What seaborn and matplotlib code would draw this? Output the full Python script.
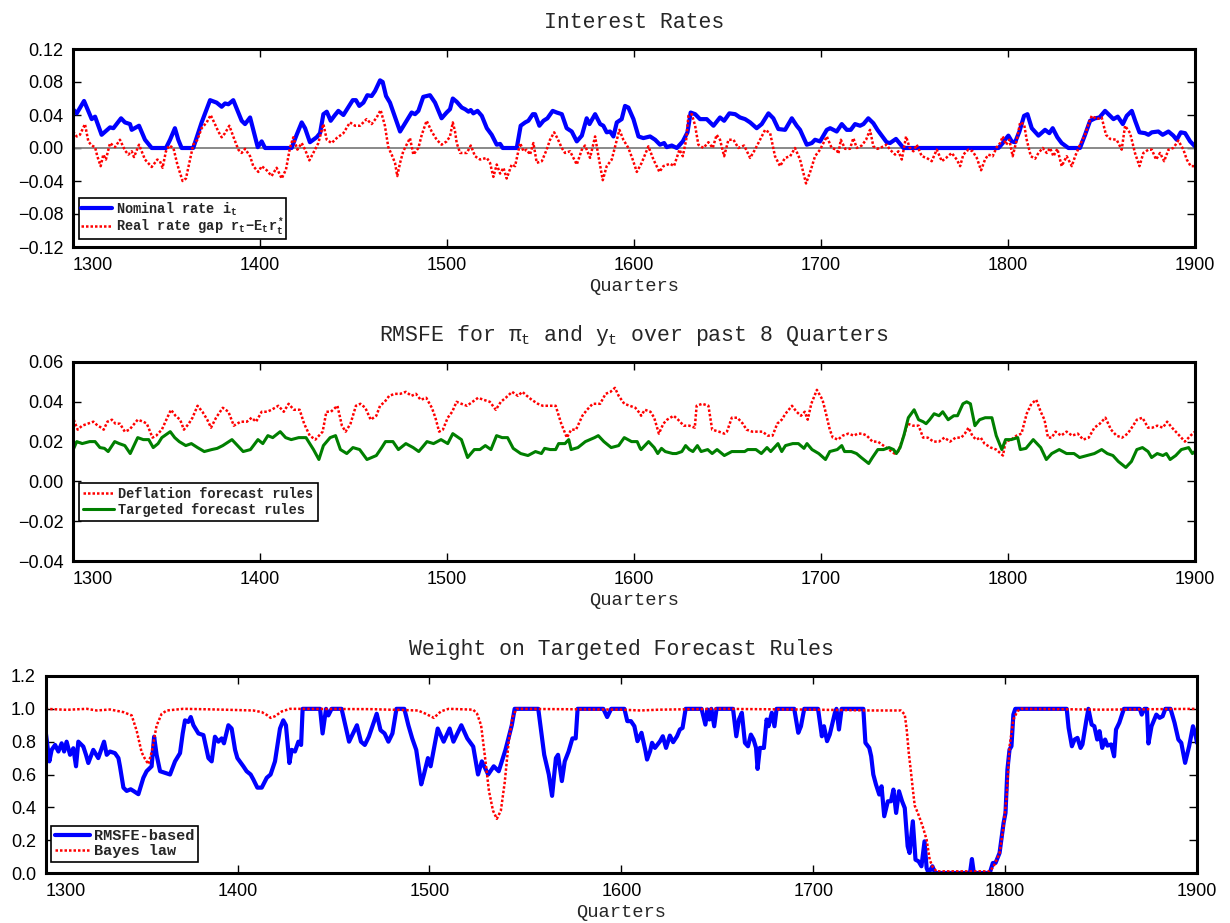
import numpy as np
import pandas as pd
import matplotlib
matplotlib.use("Agg")
import matplotlib.pyplot as plt
from matplotlib.ticker import FuncFormatter, MultipleLocator
import seaborn as sns

# ---------------- data ----------------
# Panel 1: Interest rates
nominal_q = [1300.0, 1302.0, 1305.9, 1310.0, 1311.8, 1315.3, 1319.8, 1321.6, 1325.7, 1327.8, 1330.5, 1331.4,
             1335.3, 1338.5, 1342.1, 1349.7, 1351.9, 1354.5, 1356.3, 1358.1, 1364.3, 1368.8, 1373.3, 1376.8,
             1379.5, 1381.3, 1383.1, 1385.7, 1390.2, 1392.0, 1394.7, 1397.3, 1398.8, 1400.9, 1402.7, 1416.9,
             1419.6, 1422.3, 1424.1, 1426.7, 1430.3, 1432.1, 1433.9, 1435.7, 1437.8, 1440.1, 1441.9, 1444.6,
             1449.6, 1451.3, 1453.1, 1455.3, 1457.4, 1459.7, 1461.5, 1464.2, 1465.6, 1467.4, 1469.5, 1474.9,
             1478.4, 1481.1, 1482.9, 1484.7, 1487.3, 1490.9, 1493.6, 1497.1, 1499.8, 1501.6,
             1503.1, 1505.2, 1507.9, 1509.7, 1511.5, 1512.7, 1514.1, 1516.3, 1518.6, 1521.3, 1523.9, 1526.6,
             1528.4, 1529.8, 1537.3, 1539.4, 1541.8, 1543.5, 1545.9, 1547.1, 1549.4, 1551.6, 1553.7, 1556.5,
             1558.7, 1561.4, 1564.0, 1566.7, 1569.4, 1572.1, 1574.7, 1576.2, 1579.2, 1581.9, 1583.6, 1585.4,
             1587.2, 1589.0, 1590.8, 1593.4, 1595.2, 1597.0, 1599.7, 1602.4, 1605.0, 1608.6, 1611.3, 1613.9,
             1616.1, 1617.5, 1620.2, 1622.9, 1626.1, 1628.6, 1630.3, 1632.7, 1635.3, 1638.9, 1642.5, 1646.0,
             1648.2, 1651.0, 1654.1, 1656.7, 1659.4, 1662.1, 1665.6, 1668.3, 1671.9, 1674.5, 1677.2, 1680.8,
             1684.4, 1687.0, 1688.8, 1692.4, 1695.1, 1696.8, 1699.5, 1703.1, 1704.9,
             1706.6, 1708.4, 1711.1, 1713.8, 1715.9, 1718.2, 1720.9, 1722.7, 1725.3, 1728.0, 1730.2, 1732.5,
             1735.1, 1736.9, 1740.1, 1741.9, 1744.1, 1794.9, 1797.2, 1798.4, 1800.2, 1802.0, 1803.8, 1806.1,
             1808.6, 1810.4, 1812.7, 1816.3, 1819.8, 1822.1, 1823.9, 1826.4, 1828.7, 1832.3, 1838.5, 1841.2,
             1843.9, 1846.6, 1848.9, 1851.9, 1854.6, 1856.4, 1858.7, 1861.4, 1863.5, 1866.2, 1868.0, 1870.3,
             1873.3, 1875.1, 1876.9, 1880.4, 1882.7, 1885.8, 1888.4, 1890.2, 1892.4, 1894.7, 1897.4, 1900.0]
nominal_rate = [0.047, 0.042, 0.057, 0.035, 0.038, 0.016, 0.025, 0.024, 0.036, 0.031, 0.029, 0.022,
                0.027, 0.010, 0.0, 0.0, 0.010, 0.024, 0.010, 0.0, 0.0, 0.031, 0.058, 0.055,
                0.050, 0.054, 0.053, 0.058, 0.033, 0.029, 0.037, 0.014, 0.001, 0.008, 0.0, 0.0,
                0.016, 0.031, 0.024, 0.007, 0.013, 0.018, 0.041, 0.044, 0.033, 0.040, 0.045, 0.040,
                0.058, 0.058, 0.051, 0.055, 0.064, 0.063, 0.069, 0.082, 0.080, 0.063, 0.055, 0.020,
                0.033, 0.043, 0.041, 0.045, 0.062, 0.064, 0.055, 0.036, 0.043, 0.047,
                0.060, 0.056, 0.049, 0.047, 0.044, 0.046, 0.042, 0.045, 0.039, 0.024, 0.016, 0.004,
                0.005, 0.0, 0.0, 0.027, 0.031, 0.033, 0.041, 0.041, 0.027, 0.033, 0.036, 0.045,
                0.043, 0.041, 0.024, 0.020, 0.008, 0.015, 0.036, 0.029, 0.041, 0.029, 0.027, 0.019,
                0.020, 0.014, 0.031, 0.035, 0.051, 0.049, 0.035, 0.014, 0.012, 0.014, 0.010, 0.004,
                0.006, 0.001, 0.003, 0.0, 0.008, 0.019, 0.043, 0.041, 0.035, 0.035, 0.027, 0.037,
                0.033, 0.042, 0.041, 0.037, 0.035, 0.031, 0.024, 0.029, 0.042, 0.036, 0.023, 0.022,
                0.036, 0.027, 0.022, 0.004, 0.006, 0.010, 0.008, 0.022, 0.024,
                0.022, 0.020, 0.029, 0.022, 0.022, 0.029, 0.027, 0.029, 0.036, 0.030, 0.022, 0.015,
                0.007, 0.006, 0.011, 0.006, 0.0, 0.0, 0.006, 0.010, 0.015, 0.008, 0.007, 0.020,
                0.039, 0.041, 0.024, 0.015, 0.022, 0.018, 0.024, 0.013, 0.006, 0.0, 0.0, 0.016,
                0.033, 0.036, 0.037, 0.045, 0.039, 0.035, 0.038, 0.029, 0.039, 0.045, 0.033, 0.019,
                0.018, 0.016, 0.019, 0.020, 0.016, 0.020, 0.015, 0.010, 0.019, 0.018, 0.008, 0.002]

gap_q = [1300.0, 1302.0, 1303.7, 1306.4, 1308.2, 1310.0, 1311.8, 1313.0, 1314.8, 1316.2, 1317.6, 1319.8,
         1322.5, 1325.1, 1327.8, 1329.6, 1331.4, 1332.6, 1335.3, 1338.5, 1342.1, 1345.1, 1346.5, 1347.9,
         1349.7, 1351.5, 1353.7, 1355.8, 1358.6, 1360.4, 1362.2, 1364.3, 1366.5, 1368.8, 1371.5, 1373.6,
         1375.9, 1377.7, 1379.5, 1381.3, 1383.6, 1385.7, 1388.4, 1390.2, 1392.0, 1394.7, 1396.4, 1399.1,
         1400.9, 1403.6, 1406.2, 1408.9, 1411.6, 1413.9, 1416.0, 1417.8, 1420.0, 1422.3, 1424.1, 1426.4,
         1428.5, 1431.2, 1433.9, 1435.7, 1438.3, 1441.0, 1444.6, 1448.1, 1450.8, 1453.5, 1457.0, 1459.7,
         1462.4, 1464.5, 1466.8, 1468.6, 1470.4, 1472.2, 1473.4, 1474.9, 1476.6, 1478.4, 1480.2, 1482.0,
         1484.7, 1486.5, 1489.1, 1491.8, 1494.5, 1497.1, 1499.8, 1501.6,
         1503.1, 1504.3, 1505.2, 1507.0, 1510.6, 1512.7, 1515.0, 1517.7, 1521.3, 1523.0, 1524.8, 1526.6,
         1528.4, 1530.2, 1531.9, 1534.6, 1536.4, 1539.1, 1540.9, 1542.6, 1544.4, 1546.2, 1548.0, 1550.7,
         1553.3, 1555.1, 1557.3, 1559.0, 1561.4, 1563.1, 1565.8, 1569.4, 1572.1, 1573.8, 1576.5, 1579.2,
         1581.0, 1583.3, 1585.4, 1588.1, 1589.9, 1592.2, 1594.3, 1597.0, 1599.3, 1601.5, 1604.1, 1607.7,
         1610.4, 1613.6, 1615.7, 1619.3, 1621.4, 1624.3, 1626.1, 1627.9, 1629.1, 1630.9, 1632.7, 1634.4,
         1637.1, 1639.8, 1642.1, 1644.2, 1646.0, 1648.2, 1650.5, 1653.2, 1655.8, 1658.9, 1662.1, 1664.7,
         1667.4, 1670.1, 1672.8, 1675.4, 1678.1, 1680.8, 1683.5, 1686.1, 1688.8, 1692.0, 1694.5, 1696.8,
         1699.5, 1703.1,
         1705.7, 1708.4, 1709.3, 1710.6, 1712.9, 1715.5, 1717.3, 1719.1, 1721.8, 1724.1, 1726.2, 1728.0,
         1730.2, 1732.5, 1735.1, 1736.9, 1739.6, 1741.4, 1743.2, 1745.5, 1747.3, 1749.4, 1751.2, 1753.9,
         1756.5, 1759.2, 1761.9, 1764.6, 1766.9, 1769.9, 1772.6, 1774.4, 1776.1, 1778.8, 1781.1, 1783.3,
         1785.6, 1787.7, 1789.5, 1791.8, 1794.0, 1795.8, 1797.2, 1799.0, 1800.7, 1802.5, 1804.7, 1806.5,
         1808.6, 1810.0, 1812.2, 1814.5, 1816.3, 1818.6, 1820.7, 1822.5, 1824.3, 1826.4, 1828.7, 1831.4,
         1834.1, 1835.9, 1838.5, 1841.2, 1843.0, 1844.8, 1847.5, 1850.1, 1852.4, 1854.6, 1858.1, 1860.8,
         1862.6, 1865.3, 1867.9, 1870.3, 1872.4, 1875.1, 1876.9, 1879.2, 1881.3, 1883.5, 1885.8, 1888.4,
         1891.1, 1893.8, 1895.6, 1897.7, 1900.0]
real_rate_gap = [0.020, 0.014, 0.016, 0.029, 0.008, 0.003, 0.001, -0.010, -0.022, -0.008, -0.014, 0.006,
                 0.001, 0.010, -0.003, -0.008, -0.004, -0.011, 0.004, -0.014, -0.023, -0.014, -0.016, -0.024,
                 -0.004, 0.003, 0.0, -0.020, -0.040, -0.037, -0.018, 0.004, 0.010, 0.024, 0.031, 0.040,
                 0.029, 0.020, 0.013, 0.018, 0.027, 0.014, -0.002, -0.006, -0.001, -0.010, -0.022, -0.029,
                 -0.022, -0.027, -0.034, -0.024, -0.037, -0.026, 0.0, 0.013, -0.002, 0.006, -0.002, -0.015,
                 -0.006, 0.006, 0.029, 0.010, 0.006, 0.012, 0.018, 0.031, 0.027, 0.027, 0.035, 0.029,
                 0.037, 0.046, 0.027, 0.001, -0.008, -0.018, -0.034, -0.018, -0.004, 0.004, 0.012, -0.008,
                 0.0, 0.016, 0.033, 0.020, 0.010, 0.004, 0.008, 0.014,
                 0.031, 0.020, 0.006, -0.006, -0.006, 0.003, -0.010, -0.014, -0.012, -0.018, -0.035, -0.020,
                 -0.031, -0.024, -0.037, -0.020, -0.022, 0.006, -0.004, -0.002, -0.008, 0.006, -0.018, -0.016,
                 -0.002, 0.010, 0.019, 0.012, 0.0, -0.006, -0.004, -0.020, -0.002, 0.003, -0.012, 0.014,
                 -0.010, -0.039, -0.022, -0.014, 0.002, 0.022, 0.010, 0.0, -0.014, -0.029, -0.018, 0.002,
                 -0.014, -0.029, -0.022, -0.019, -0.022, -0.002, -0.010, 0.010, 0.039, 0.041, 0.027, 0.004,
                 0.0, 0.007, 0.0, 0.016, 0.010, -0.010, 0.010, 0.010, 0.0, 0.003, -0.012, -0.002,
                 0.010, 0.022, 0.018, -0.010, -0.022, -0.012, -0.010, 0.0, -0.014, -0.043, -0.027, -0.010,
                 -0.002, 0.014,
                 0.0, -0.002, -0.007, 0.010, -0.001, -0.001, 0.012, 0.0, 0.003, 0.010, 0.022, 0.002,
                 -0.001, 0.001, 0.004, -0.002, -0.008, -0.004, -0.014, 0.014, 0.001, -0.004, 0.004, -0.010,
                 -0.012, -0.016, -0.002, -0.016, -0.012, -0.006, -0.014, -0.022, -0.008, -0.002, -0.004, -0.012,
                 -0.027, -0.014, -0.008, -0.010, 0.001, 0.006, 0.014, 0.004, 0.010, -0.010, 0.010, 0.031,
                 0.029, 0.010, -0.010, -0.013, -0.006, 0.0, -0.006, 0.0, -0.010, -0.001, -0.022, -0.010,
                 -0.022, -0.010, 0.004, 0.016, 0.029, 0.039, 0.035, 0.037, 0.016, 0.011, 0.010, -0.002,
                 0.027, 0.018, -0.006, -0.022, -0.006, -0.002, -0.002, -0.014, -0.006, -0.016, -0.002, 0.0,
                 0.009, -0.002, -0.014, -0.022, -0.022]

# Panel 2: RMSFE
targeted_q = [1300.4, 1302.0, 1304.9, 1308.9, 1311.8, 1314.4, 1316.8, 1318.8, 1322.3, 1324.7, 1327.7, 1330.6,
              1334.6, 1337.6, 1340.5, 1342.9, 1345.5, 1347.5, 1352.0, 1354.4, 1356.8, 1360.3, 1363.3, 1366.6,
              1370.2, 1374.2, 1377.1, 1380.1, 1385.0, 1388.0, 1391.0, 1394.9, 1398.9, 1401.5, 1404.2, 1406.8,
              1410.8, 1413.7, 1416.7, 1420.7, 1424.6, 1428.6, 1431.5, 1433.9, 1437.5, 1440.4, 1443.0, 1446.4,
              1449.7, 1453.3, 1457.2, 1462.2, 1465.1, 1467.1, 1471.1, 1474.0, 1478.0, 1481.9, 1484.9, 1489.3,
              1492.8, 1496.8, 1500.4, 1503.1, 1507.7, 1511.0, 1514.6, 1517.6, 1520.5, 1523.5, 1526.5, 1529.5,
              1532.4, 1535.4, 1539.4, 1543.3, 1547.3, 1550.5, 1552.2, 1555.2, 1558.1, 1559.7, 1563.1, 1565.1,
              1566.4, 1570.0, 1574.0, 1578.9, 1580.9, 1583.9, 1587.8, 1591.8, 1594.8, 1598.7, 1601.7, 1603.3,
              1603.8, 1607.8, 1610.8, 1612.7, 1614.7, 1616.7, 1620.7, 1622.6, 1625.6, 1627.6, 1629.6, 1631.5,
              1633.9, 1635.9, 1639.4, 1641.8, 1644.4, 1648.3, 1652.3, 1656.3, 1659.2, 1660.8, 1665.2, 1668.1,
              1671.1, 1673.1, 1677.0, 1679.0, 1681.0, 1684.9, 1687.9, 1690.9, 1692.5, 1695.2, 1698.8, 1702.4,
              1704.7, 1708.7, 1711.1, 1712.6, 1716.2, 1719.0, 1721.5, 1725.5, 1727.5, 1730.4, 1733.4, 1736.4,
              1738.8, 1740.3, 1742.3, 1744.3, 1746.7, 1749.8, 1752.2, 1754.6, 1756.2, 1758.1, 1760.5, 1763.1,
              1765.1, 1768.0, 1771.0, 1773.0, 1775.9, 1777.9, 1779.9, 1782.3, 1784.8, 1787.8, 1791.4, 1793.7,
              1796.7, 1798.7, 1801.7, 1805.2, 1806.6, 1809.6, 1813.5, 1817.5, 1820.5, 1823.4, 1827.4, 1831.3,
              1835.3, 1838.3, 1842.2, 1846.2, 1850.1, 1853.1, 1856.1, 1859.0, 1863.0, 1866.0, 1868.9, 1871.9,
              1874.9, 1876.8, 1879.8, 1882.8, 1884.7, 1886.7, 1889.7, 1892.7, 1896.6, 1898.6, 1900.0]
targeted_rmsfe = [0.0166, 0.020, 0.019, 0.020, 0.020, 0.017, 0.0166, 0.015, 0.020, 0.019, 0.018, 0.014,
                  0.022, 0.021, 0.021, 0.017, 0.019, 0.022, 0.025, 0.022, 0.020, 0.018, 0.019, 0.017,
                  0.015, 0.016, 0.0166, 0.018, 0.021, 0.018, 0.015, 0.016, 0.021, 0.019, 0.023, 0.022,
                  0.025, 0.022, 0.021, 0.022, 0.022, 0.016, 0.011, 0.018, 0.022, 0.023, 0.016, 0.014,
                  0.017, 0.016, 0.011, 0.013, 0.017, 0.020, 0.020, 0.016, 0.019, 0.017, 0.015, 0.020,
                  0.019, 0.021, 0.019, 0.024, 0.021, 0.012, 0.016, 0.016, 0.018, 0.016, 0.023, 0.022,
                  0.022, 0.0166, 0.014, 0.013, 0.015, 0.014, 0.0166, 0.016, 0.016, 0.019, 0.019, 0.021,
                  0.016, 0.017, 0.020, 0.022, 0.023, 0.020, 0.017, 0.018, 0.022, 0.020, 0.020, 0.0166,
                  0.016, 0.020, 0.017, 0.014, 0.0166, 0.015, 0.014, 0.014, 0.015, 0.018, 0.016, 0.015,
                  0.018, 0.015, 0.016, 0.014, 0.016, 0.013, 0.015, 0.015, 0.015, 0.016, 0.016, 0.014,
                  0.017, 0.015, 0.019, 0.015, 0.018, 0.019, 0.019, 0.0166, 0.019, 0.016, 0.014, 0.011,
                  0.015, 0.016, 0.018, 0.015, 0.015, 0.014, 0.012, 0.009, 0.012, 0.016, 0.016, 0.017,
                  0.016, 0.014, 0.017, 0.023, 0.032, 0.036, 0.031, 0.030, 0.029, 0.031, 0.034, 0.033,
                  0.035, 0.031, 0.033, 0.033, 0.039, 0.040, 0.039, 0.028, 0.031, 0.032, 0.032, 0.023,
                  0.016, 0.021, 0.021, 0.022, 0.016, 0.0166, 0.021, 0.017, 0.011, 0.014, 0.016, 0.014,
                  0.014, 0.012, 0.013, 0.014, 0.016, 0.014, 0.013, 0.010, 0.007, 0.010, 0.016, 0.017,
                  0.015, 0.012, 0.014, 0.013, 0.014, 0.011, 0.013, 0.016, 0.017, 0.014, 0.015]

deflation_q = [1300.4, 1302.5, 1304.9, 1307.9, 1310.9, 1313.2, 1315.2, 1316.4, 1318.4, 1320.8, 1322.7, 1325.1,
               1327.7, 1330.2, 1334.6, 1337.6, 1339.5, 1342.5, 1344.5, 1347.5, 1350.4, 1352.4, 1354.8, 1357.3,
               1359.3, 1361.9, 1363.9, 1366.6, 1369.2, 1371.8, 1373.8, 1376.5, 1380.1, 1383.1, 1386.0, 1389.6,
               1393.0, 1395.5, 1397.9, 1400.9, 1403.8, 1406.2, 1409.8, 1412.7, 1415.3, 1418.1, 1421.2, 1423.6,
               1426.6, 1429.6, 1433.5, 1435.5, 1437.9, 1441.4, 1443.8, 1445.8, 1448.4, 1451.3, 1453.7, 1456.3,
               1459.2, 1462.2, 1464.2, 1466.7, 1469.1, 1472.1, 1475.0, 1478.0, 1481.0, 1483.4, 1485.9, 1488.9,
               1491.9, 1493.8, 1495.8, 1497.8, 1500.4, 1502.8, 1505.1, 1507.7, 1510.7, 1513.6, 1516.6, 1519.6,
               1522.9, 1526.1, 1528.8, 1531.4, 1534.8, 1537.9, 1540.3, 1542.7, 1545.3, 1548.6, 1551.2, 1553.2,
               1556.1, 1558.1, 1561.1, 1564.1, 1566.4, 1569.0, 1572.4, 1574.9, 1577.9, 1581.9, 1584.8, 1587.4,
               1589.8, 1591.8, 1594.8, 1597.7, 1600.7, 1603.3,
               1603.8, 1605.8, 1608.8, 1610.8, 1613.3, 1615.7, 1617.7, 1621.2, 1623.6, 1626.6, 1629.6, 1632.5,
               1633.5, 1636.5, 1639.8, 1641.8, 1645.4, 1648.3, 1649.7, 1652.3, 1655.3, 1658.2, 1660.2, 1663.2,
               1666.1, 1668.7, 1671.5, 1674.1, 1676.6, 1679.0, 1681.0, 1684.5, 1686.9, 1689.3, 1691.3, 1692.9,
               1694.8, 1697.8, 1700.8, 1702.7, 1704.7, 1706.3, 1709.1, 1711.6, 1714.6, 1717.6, 1719.6, 1722.1,
               1724.5, 1727.5, 1730.4, 1733.4, 1736.4, 1739.3, 1741.3, 1744.3, 1746.3, 1749.2, 1752.2, 1754.6,
               1757.1, 1760.1, 1763.1, 1766.0, 1769.0, 1772.0, 1775.0, 1776.9, 1778.9, 1780.9, 1782.9, 1785.4,
               1787.4, 1790.8, 1793.7, 1797.3, 1798.7, 1801.7, 1804.6, 1807.2, 1810.0, 1812.5, 1815.1, 1817.5,
               1819.5, 1821.4, 1823.4, 1825.4, 1828.4, 1831.3, 1834.3, 1837.3, 1840.2, 1843.2, 1846.2, 1849.1,
               1852.1, 1855.1, 1858.0, 1861.0, 1864.0, 1866.9, 1868.9, 1871.9, 1874.9, 1877.2, 1879.8, 1882.8,
               1885.1, 1887.7, 1890.7, 1894.6, 1897.6, 1900.0]
deflation_rmsfe = [0.031, 0.026, 0.028, 0.029, 0.030, 0.028, 0.027, 0.026, 0.030, 0.031, 0.029, 0.029,
                   0.025, 0.026, 0.031, 0.030, 0.029, 0.022, 0.023, 0.026, 0.032, 0.036, 0.033, 0.031,
                   0.026, 0.029, 0.032, 0.038, 0.035, 0.031, 0.027, 0.032, 0.037, 0.035, 0.028, 0.030,
                   0.030, 0.032, 0.030, 0.035, 0.035, 0.036, 0.038, 0.035, 0.039, 0.036, 0.036, 0.029,
                   0.023, 0.021, 0.025, 0.035, 0.035, 0.038, 0.028, 0.025, 0.029, 0.038, 0.039, 0.037,
                   0.031, 0.033, 0.038, 0.040, 0.043, 0.044, 0.044, 0.045, 0.043, 0.044, 0.041, 0.042,
                   0.037, 0.032, 0.025, 0.026, 0.032, 0.035, 0.040, 0.039, 0.038, 0.040, 0.042, 0.041,
                   0.040, 0.036, 0.040, 0.042, 0.045, 0.043, 0.045, 0.043, 0.041, 0.039, 0.038, 0.038,
                   0.038, 0.038, 0.029, 0.022, 0.026, 0.026, 0.033, 0.036, 0.039, 0.039, 0.044, 0.045,
                   0.047, 0.043, 0.039, 0.038, 0.037, 0.034,
                   0.033, 0.036, 0.035, 0.032, 0.024, 0.029, 0.031, 0.033, 0.031, 0.028, 0.028, 0.027,
                   0.038, 0.039, 0.038, 0.026, 0.025, 0.024, 0.025, 0.032, 0.032, 0.029, 0.026, 0.025,
                   0.025, 0.025, 0.023, 0.023, 0.029, 0.031, 0.034, 0.038, 0.035, 0.033, 0.035, 0.031,
                   0.039, 0.046, 0.041, 0.034, 0.026, 0.022, 0.021, 0.023, 0.024, 0.023, 0.024, 0.024,
                   0.023, 0.020, 0.020, 0.018, 0.016, 0.014, 0.015, 0.023, 0.029, 0.028, 0.028, 0.022,
                   0.022, 0.020, 0.020, 0.022, 0.020, 0.022, 0.022, 0.024, 0.027, 0.023, 0.021, 0.022,
                   0.019, 0.017, 0.016, 0.013, 0.020, 0.021, 0.023, 0.024, 0.034, 0.039, 0.041, 0.035,
                   0.031, 0.022, 0.022, 0.025, 0.023, 0.025, 0.023, 0.024, 0.021, 0.022, 0.027, 0.029,
                   0.032, 0.026, 0.023, 0.022, 0.024, 0.028, 0.031, 0.032, 0.027, 0.027, 0.028, 0.027,
                   0.030, 0.027, 0.024, 0.020, 0.023, 0.025]

# Panel 3: weight on targeted forecast rules
rmsfe_q = [1300.0, 1301.9, 1303.1, 1304.9, 1306.6, 1308.3, 1309.6, 1310.9, 1312.7, 1314.4, 1315.8, 1317.0,
           1319.6, 1321.0, 1322.2, 1324.8, 1327.4, 1330.4, 1331.8, 1333.5, 1336.1, 1337.9, 1338.7, 1340.5,
           1342.2, 1344.3, 1345.7, 1348.3, 1350.9, 1352.6, 1355.2, 1356.5, 1357.8, 1359.6, 1362.2, 1364.8,
           1367.4, 1370.0, 1371.4, 1372.6, 1374.3, 1375.6, 1377.0, 1379.6, 1382.2, 1384.8, 1386.5, 1388.2,
           1390.0, 1391.7, 1392.9, 1395.2, 1396.9, 1398.7, 1399.9, 1403.0, 1404.7, 1406.8, 1408.2, 1410.3,
           1412.6, 1415.2, 1417.2, 1419.5, 1422.1, 1423.8, 1425.2, 1427.0, 1428.2, 1429.9, 1431.7, 1433.1,
           1433.9, 1443.0, 1444.3, 1446.1, 1447.3, 1449.0, 1454.2, 1456.7, 1458.1, 1462.2, 1464.3, 1466.3,
           1468.4, 1472.5, 1474.5, 1476.6, 1478.6, 1480.7, 1482.8, 1486.9, 1489.0, 1491.0, 1493.1, 1495.7,
           1497.1, 1499.2, 1500.6, 1504.3, 1507.4, 1510.5, 1512.5, 1516.6, 1519.7, 1522.8, 1525.3, 1527.3,
           1530.6, 1533.5, 1536.1, 1539.6, 1542.9, 1544.4, 1556.7, 1559.8, 1562.2, 1563.9, 1565.9, 1567.0,
           1569.0, 1570.5, 1572.5, 1574.5, 1576.2, 1577.2, 1590.6, 1592.6, 1594.7, 1601.6, 1603.1, 1605.0,
           1606.8, 1608.4, 1610.5, 1612.6, 1613.4, 1615.0, 1616.0, 1617.5, 1620.2, 1621.6, 1623.3, 1625.3,
           1627.0, 1629.0, 1630.5, 1631.9, 1633.5, 1641.8, 1643.8, 1644.9, 1645.9, 1646.9, 1648.4, 1649.6,
           1658.2, 1659.9, 1661.3, 1662.8, 1664.4, 1666.0, 1667.5, 1668.9, 1670.2, 1671.0, 1672.2, 1674.3,
           1675.7, 1676.7, 1678.4, 1679.8, 1680.9, 1690.1, 1692.2, 1693.6, 1695.3, 1702.5, 1704.5, 1705.6,
           1707.2, 1708.6, 1711.3, 1712.1, 1713.4, 1714.8, 1726.1, 1727.2, 1729.2, 1730.2, 1731.3, 1732.7,
           1734.4, 1735.6, 1737.0, 1738.9, 1740.5, 1741.8, 1743.2, 1744.7, 1746.3, 1747.7, 1749.2, 1750.2,
           1751.9, 1753.3, 1754.9, 1756.4, 1758.0, 1759.1, 1760.1, 1762.1, 1763.5, 1781.7, 1782.7, 1783.7,
           1792.0, 1793.6, 1795.0, 1797.1, 1799.2, 1800.2, 1801.2, 1802.3, 1803.3, 1804.3, 1805.3, 1832.1,
           1833.1, 1834.8, 1836.2, 1837.7, 1839.3, 1840.3, 1842.4, 1843.4, 1845.1, 1846.5, 1848.0, 1849.2,
           1850.6, 1852.1, 1853.3, 1855.3, 1856.8, 1857.8, 1859.5, 1861.9, 1870.2, 1871.2, 1872.6, 1873.9,
           1874.7, 1876.3, 1878.8, 1880.5, 1882.1, 1883.5, 1886.2, 1888.3, 1890.3, 1891.8, 1893.8, 1895.9,
           1897.9, 1899.0, 1900.0]
rmsfe_weight = [0.86, 0.68, 0.75, 0.78, 0.74, 0.79, 0.74, 0.80, 0.72, 0.76, 0.65, 0.80,
                0.77, 0.72, 0.67, 0.75, 0.70, 0.80, 0.72, 0.74, 0.73, 0.70, 0.65, 0.52,
                0.50, 0.51, 0.50, 0.48, 0.58, 0.62, 0.65, 0.83, 0.72, 0.62, 0.61, 0.60,
                0.68, 0.73, 0.85, 0.93, 0.92, 0.95, 0.90, 0.85, 0.84, 0.70, 0.68, 0.83,
                0.80, 0.82, 0.79, 0.90, 0.88, 0.75, 0.70, 0.65, 0.62, 0.60, 0.57, 0.52,
                0.52, 0.58, 0.60, 0.68, 0.88, 0.93, 0.90, 0.67, 0.75, 0.74, 0.80, 0.78,
                1.0, 1.0, 0.85, 1.0, 0.96, 1.0, 1.0, 0.87, 0.80, 0.90, 0.80, 0.78,
                0.83, 0.97, 0.87, 0.85, 0.80, 0.85, 1.0, 1.0, 0.90, 0.82, 0.75, 0.54,
                0.60, 0.70, 0.65, 0.88, 0.80, 0.88, 0.80, 0.90, 0.82, 0.77, 0.60, 0.68,
                0.60, 0.65, 0.62, 0.75, 0.90, 1.0, 1.0, 0.72, 0.60, 0.47, 0.70, 0.72,
                0.56, 0.68, 0.74, 0.82, 0.82, 1.0, 1.0, 0.95, 1.0, 1.0, 0.925, 0.925,
                0.894, 0.803, 0.854, 0.742, 0.691, 0.742, 0.793, 0.762, 0.803, 0.833, 0.762, 0.837,
                0.797, 0.833, 0.874, 0.884, 1.0, 1.0, 0.904, 0.996, 0.935, 1.0, 0.894, 1.0,
                1.0, 0.833, 0.935, 0.976, 0.793, 0.772, 0.843, 0.813, 0.762, 0.634, 0.762, 0.762,
                0.935, 0.894, 0.976, 0.894, 1.0, 1.0, 0.854, 0.894, 1.0, 1.0, 0.833, 0.894,
                0.803, 0.843, 0.976, 1.0, 0.874, 1.0, 1.0, 0.793, 0.762, 0.711, 0.600, 0.539,
                0.478, 0.528, 0.346, 0.437, 0.437, 0.508, 0.366, 0.498, 0.437, 0.396, 0.163, 0.122,
                0.315, 0.081, 0.071, 0.041, 0.193, 0.030, 0.0, 0.041, 0.0, 0.0, 0.085, 0.0,
                0.0, 0.061, 0.061, 0.122, 0.305, 0.366, 0.630, 0.752, 0.772, 0.965, 1.0, 1.0,
                0.884, 0.772, 0.813, 0.823, 0.762, 0.783, 0.935, 1.0, 0.904, 0.894, 0.813, 0.864,
                0.762, 0.813, 0.776, 0.783, 0.711, 0.874, 0.915, 1.0, 1.0, 0.965, 1.0, 1.0,
                0.789, 0.894, 0.965, 0.945, 0.955, 1.0, 1.0, 0.915, 0.813, 0.793, 0.671, 0.772,
                0.894, 0.854, 0.793]

bayes_q = [1300.0, 1310.9, 1321.4, 1326.6, 1333.5, 1340.5, 1344.8, 1347.4, 1350.0, 1351.8, 1353.5, 1355.2,
           1357.8, 1360.4, 1363.1, 1371.7, 1389.1, 1408.2, 1412.6, 1415.2, 1417.2, 1419.5, 1423.0, 1427.3,
           1470.0, 1494.0, 1498.0, 1502.3, 1506.0, 1510.0, 1522.8, 1524.8, 1526.9, 1529.0, 1531.0, 1533.1,
           1535.1, 1537.2, 1539.2, 1541.3, 1543.3, 1545.4, 1600.0, 1610.0, 1620.0, 1650.0, 1700.0, 1730.0,
           1745.7, 1747.7, 1748.7, 1749.8, 1750.8, 1751.9, 1752.9, 1754.5, 1757.0, 1759.1, 1760.7, 1762.1,
           1764.2, 1792.0, 1794.0, 1797.1, 1799.2, 1800.8, 1802.3, 1804.3, 1806.4, 1808.4, 1850.0, 1900.0]
bayes_weight = [1.0, 0.994, 1.0, 0.99, 0.996, 0.98, 0.96, 0.867, 0.735, 0.694, 0.663, 0.735,
                0.898, 0.969, 0.99, 1.0, 0.996, 0.99, 0.98, 0.963, 0.945, 0.955, 0.984, 1.0,
                0.998, 0.99, 0.97, 0.945, 0.985, 1.0, 0.995, 0.97, 0.90, 0.70, 0.50, 0.38,
                0.33, 0.38, 0.55, 0.80, 0.95, 1.0, 0.995, 0.99, 0.995, 1.0, 0.995, 0.99,
                0.99, 0.965, 0.874, 0.73, 0.63, 0.51, 0.41, 0.366, 0.285, 0.203, 0.081, 0.04,
                0.01, 0.01, 0.04, 0.12, 0.285, 0.467, 0.77, 0.935, 0.986, 1.0, 0.995, 1.0]

x_ticks = [1300, 1400, 1500, 1600, 1700, 1800, 1900]

# ---------------- style ----------------
sns.set_style("ticks")
plt.rcParams["font.family"] = ["Liberation Sans", "DejaVu Sans"]
plt.rcParams["mathtext.fontset"] = "custom"
plt.rcParams["mathtext.rm"] = "Liberation Mono"
plt.rcParams["mathtext.it"] = "Liberation Mono"
plt.rcParams["mathtext.bf"] = "Liberation Mono:bold"

MONO = ["Liberation Mono", "DejaVu Sans Mono"]
DOT = (0, (1, 0.8))

fig = plt.figure(figsize=(12.3, 9.23), dpi=100)
W, H = 1230.0, 923.0
ax1 = fig.add_axes([73 / W, 1 - 247 / H, 1122 / W, 198 / H])
ax2 = fig.add_axes([73 / W, 1 - 561 / H, 1122 / W, 199 / H])
ax3 = fig.add_axes([45.7 / W, 1 - 873 / H, 1151.3 / W, 197 / H])


def minus_fmt(dec):
    def f(v, pos):
        s = f"{v:.{dec}f}"
        if float(s) == 0:
            s = f"{0:.{dec}f}"
        return s.replace("-", "\u2212")
    return FuncFormatter(f)


def style_axis(ax, ylim, ystep, dec, title):
    ax.set_xlim(1300, 1900)
    ax.set_ylim(*ylim)
    ax.set_xticks(x_ticks)
    ax.yaxis.set_major_locator(MultipleLocator(ystep))
    ax.yaxis.set_major_formatter(minus_fmt(dec))
    ax.tick_params(direction="in", length=6, width=1, top=True, right=True,
                   labelsize=13, pad=7, colors="black")
    ax.get_xticklabels()[0].set_horizontalalignment("left")
    for sp in ax.spines.values():
        sp.set_linewidth(2.2)
        sp.set_color("black")
        sp.set_visible(True)
    ax.set_xlabel("Quarters", fontsize=13.5, family=MONO, labelpad=3)
    ax.set_ylabel("")
    ax.set_title(title, fontsize=15.5, family=MONO, pad=15)


def style_legend(ax, loc, anchor, size=9.8, spacing=0.0, bpad=0.2):
    leg = ax.legend(loc=loc, bbox_to_anchor=anchor, borderaxespad=0, frameon=True,
                    fancybox=False, shadow=False,
                    prop={"family": MONO, "size": size, "weight": "bold"},
                    handlelength=2.3, handletextpad=0.3, labelspacing=spacing,
                    borderpad=bpad)
    fr = leg.get_frame()
    fr.set_edgecolor("black")
    fr.set_linewidth(1.2)
    fr.set_alpha(1)


# ---------------- panel 1 ----------------
ax1.axhline(0, color="#808080", lw=1.3, zorder=1)
sns.lineplot(x=nominal_q, y=nominal_rate, ax=ax1, color="#0000ff", lw=3,
             label=r"Nominal rate $\mathbf{i_t}$", estimator=None, sort=False)
sns.lineplot(x=gap_q, y=real_rate_gap, ax=ax1, color="#ff0000", lw=1.8, linestyle=DOT,
             label=r"Real rate gap $\mathbf{r_t\!-\!E_t r_t^*}$", estimator=None, sort=False)
style_axis(ax1, (-0.12, 0.12), 0.04, 2, "Interest Rates")
style_legend(ax1, "lower left", (6 / 1122, 8 / 198), size=9.8, spacing=-0.15, bpad=0.12)

# ---------------- panel 2 ----------------
sns.lineplot(x=deflation_q, y=deflation_rmsfe, ax=ax2, color="#ff0000", lw=1.8, linestyle=DOT,
             label="Deflation forecast rules", estimator=None, sort=False)
sns.lineplot(x=targeted_q, y=targeted_rmsfe, ax=ax2, color="#007f00", lw=2.2,
             label="Targeted forecast rules", estimator=None, sort=False)
style_axis(ax2, (-0.04, 0.06), 0.02, 2, r"RMSFE for $\pi_t$ and $y_t$ over past 8 Quarters")
style_legend(ax2, "upper left", (6 / 1122, 78 / 199), size=9.8, spacing=0.12, bpad=0.3)

# ---------------- panel 3 ----------------
sns.lineplot(x=rmsfe_q, y=rmsfe_weight, ax=ax3, color="#0000ff", lw=3,
             label="RMSFE-based", estimator=None, sort=False)
sns.lineplot(x=bayes_q, y=bayes_weight, ax=ax3, color="#ff0000", lw=1.8, linestyle=DOT,
             label="Bayes law", estimator=None, sort=False)
style_axis(ax3, (0.0, 1.2), 0.2, 1, "Weight on Targeted Forecast Rules")
style_legend(ax3, "lower left", (5 / 1151, 11 / 197), size=11, spacing=0.05, bpad=0.25)

fig.savefig("out.png", dpi=100)
